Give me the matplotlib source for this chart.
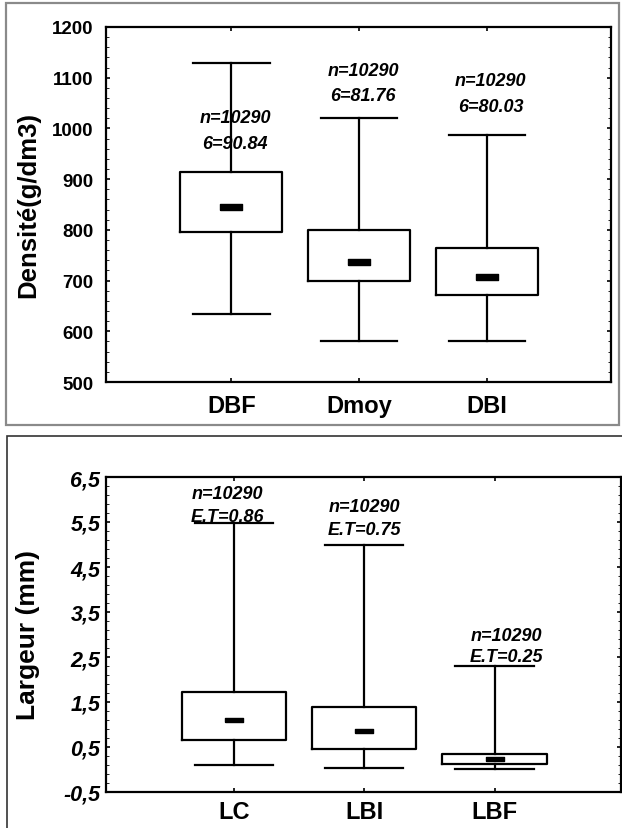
import matplotlib
matplotlib.use("Agg")
import matplotlib.pyplot as plt
from matplotlib.patches import Rectangle

plt.rcParams['font.family'] = ['Liberation Sans', 'DejaVu Sans']

# top panel: density
dens_names = ["DBF", "Dmoy", "DBI"]
dens_whislo = [635, 580, 580]
dens_q1 = [795, 699, 672]
dens_mean = [846, 736, 707]
dens_q3 = [914, 799, 765]
dens_whishi = [1129, 1021, 988]
dens_n = ["n=10290", "n=10290", "n=10290"]
dens_sd = ["6=90.84", "6=81.76", "6=80.03"]
dens_n_y = [1022, 1114, 1095]
dens_sd_y = [971, 1065, 1044]
dens_ticks = [500, 600, 700, 800, 900, 1000, 1100, 1200]

# bottom panel: width
larg_names = ["LC", "LBI", "LBF"]
larg_whislo = [0.11, 0.04, 0.02]
larg_q1 = [0.65, 0.46, 0.13]
larg_mean = [1.10, 0.85, 0.24]
larg_q3 = [1.72, 1.40, 0.35]
larg_whishi = [5.48, 4.99, 2.31]
larg_n = ["n=10290", "n=10290", "n=10290"]
larg_sd = ["E.T=0.86", "E.T=0.75", "E.T=0.25"]
larg_n_y = [6.13, 5.84, 2.98]
larg_sd_y = [5.63, 5.33, 2.50]
larg_ticks = [-0.5, 0.5, 1.5, 2.5, 3.5, 4.5, 5.5, 6.5]
larg_ticklabels = ["-0,5", "0,5", "1,5", "2,5", "3,5", "4,5", "5,5", "6,5"]

W, H = 622, 829
fig = plt.figure(figsize=(W / 100, H / 100), dpi=100)

# panel frames
fig.patches.append(Rectangle((6 / W, 1 - 426 / H), 613 / W, 422 / H, transform=fig.transFigure,
                             fill=False, ec="#8a8a8a", lw=1.6))
fig.patches.append(Rectangle((7 / W, -0.01), 1.0, 1 - 437 / H + 0.01, transform=fig.transFigure,
                             fill=False, ec="#333333", lw=1.2))

mean_marker = [(-2, -0.5), (2, -0.5), (2, 0.5), (-2, 0.5), (-2, -0.5)]


def make_stats(names, lo, q1, mean, q3, hi):
    out = []
    for i in range(len(names)):
        out.append(dict(label=names[i], whislo=lo[i], q1=q1[i], med=mean[i],
                        mean=mean[i], q3=q3[i], whishi=hi[i], fliers=[]))
    return out


def draw(ax, stats, msize):
    ax.bxp(stats, positions=[1, 2, 3], widths=0.8, capwidths=0.6, showmeans=True,
           boxprops=dict(color="black", lw=1.6),
           whiskerprops=dict(color="black", lw=1.6),
           capprops=dict(color="black", lw=1.6),
           medianprops=dict(visible=False),
           meanprops=dict(marker=mean_marker, markersize=msize, markerfacecolor="black",
                          markeredgecolor="black"))
    ax.set_xlim(0.02, 3.97)
    for s in ax.spines.values():
        s.set_linewidth(1.6)
    ax.tick_params(axis="both", direction="in", top=True, right=True, length=3, width=1.2)
    ax.tick_params(axis="y", which="minor", direction="in", length=2, left=True, right=True)
    for lab in ax.get_xticklabels():
        lab.set_fontweight("bold")
        lab.set_fontsize(17)


# top
ax1 = fig.add_axes([106 / W, 1 - 383 / H, 505 / W, 355 / H])
draw(ax1, make_stats(dens_names, dens_whislo, dens_q1, dens_mean, dens_q3, dens_whishi), 16)
ax1.set_ylim(500, 1200)
ax1.set_yticks(dens_ticks)
ax1.set_yticks(range(500, 1200, 20), minor=True)
ax1.set_yticklabels([str(t) for t in dens_ticks], fontsize=13.5, fontweight="bold")
ax1.tick_params(axis="x", pad=9)
ax1.tick_params(axis="y", pad=9)
ax1.set_ylabel("Densité(g/dm3)", fontsize=18.5, fontweight="bold")
ax1.yaxis.set_label_coords(-0.13, 0.5)
for i in range(3):
    ax1.text(i + 1.03, dens_n_y[i], dens_n[i], ha="center", va="center",
             fontsize=13, fontweight="bold", style="italic")
    ax1.text(i + 1.03, dens_sd_y[i], dens_sd[i], ha="center", va="center",
             fontsize=13, fontweight="bold", style="italic")

# bottom
ax2 = fig.add_axes([106 / W, 1 - 793 / H, 515 / W, 315 / H])
draw(ax2, make_stats(larg_names, larg_whislo, larg_q1, larg_mean, larg_q3, larg_whishi), 13)
ax2.set_ylim(-0.5, 6.5)
ax2.set_yticks(larg_ticks)
ax2.set_yticks([-0.5 + 0.2 * k for k in range(35)], minor=True)
ax2.set_yticklabels(larg_ticklabels, fontsize=15.5, fontweight="bold", style="italic")
ax2.tick_params(axis="x", pad=6)
ax2.tick_params(axis="y", pad=4)
ax2.set_ylabel("Largeur (mm)", fontsize=19, fontweight="bold")
ax2.yaxis.set_label_coords(-0.128, 0.5)
larg_dx = [-0.05, 0.0, 0.09]
for i in range(3):
    ax2.text(i + 1 + larg_dx[i], larg_n_y[i], larg_n[i], ha="center", va="center",
             fontsize=13, fontweight="bold", style="italic")
    ax2.text(i + 1 + larg_dx[i], larg_sd_y[i], larg_sd[i], ha="center", va="center",
             fontsize=13, fontweight="bold", style="italic")

fig.savefig("out.png", dpi=100)
